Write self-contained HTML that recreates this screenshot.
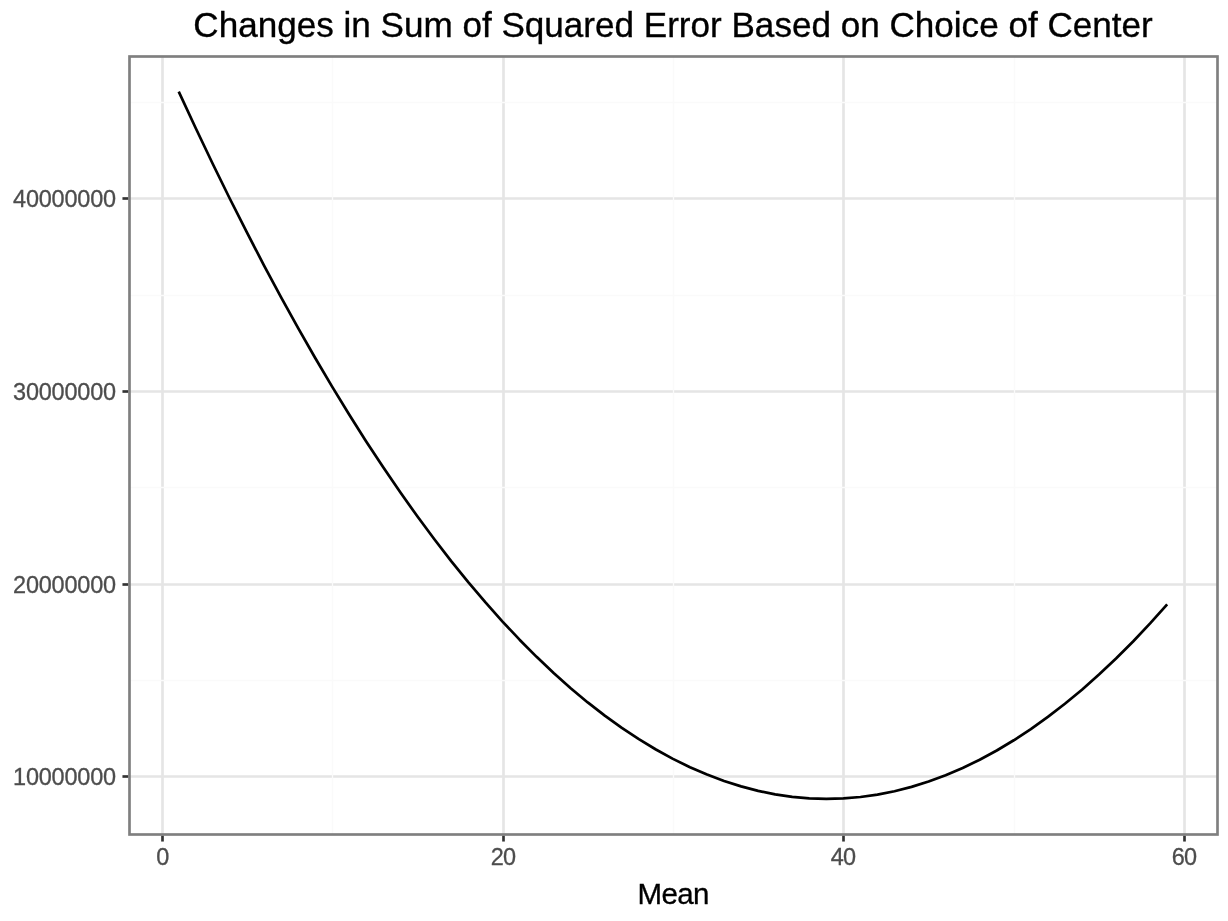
<!DOCTYPE html>
<html lang="en"><head><meta charset="utf-8"><title>Changes in Sum of Squared Error Based on Choice of Center</title>
<style>
html,body{margin:0;padding:0;background:#fff;}
body{width:1228px;height:921px;overflow:hidden;}
svg{display:block;}
text{font-family:"Liberation Sans",sans-serif;}
.tk{font-size:23.47px;fill:#4d4d4d;stroke:#4d4d4d;stroke-width:0.3px;letter-spacing:-0.2px;}
.xt{letter-spacing:-0.8px;}
.ttl{font-size:35.1px;fill:#000;stroke:#000;stroke-width:0.35px;}
.ax{font-size:29.5px;fill:#000;stroke:#000;stroke-width:0.3px;letter-spacing:-0.6px;}
</style></head><body>
<svg width="1228" height="921" viewBox="0 0 1228 921">
<rect x="0" y="0" width="1228" height="921" fill="#ffffff"/>
<g stroke="#e5e5e5" stroke-width="2.667">
<line x1="162.5" x2="162.5" y1="56.5" y2="834.5"/>
<line x1="503.5" x2="503.5" y1="56.5" y2="834.5"/>
<line x1="843.5" x2="843.5" y1="56.5" y2="834.5"/>
<line x1="1184.5" x2="1184.5" y1="56.5" y2="834.5"/>
<line y1="776.5" y2="776.5" x1="129.5" x2="1217.5"/>
<line y1="584.5" y2="584.5" x1="129.5" x2="1217.5"/>
<line y1="391.5" y2="391.5" x1="129.5" x2="1217.5"/>
<line y1="198.5" y2="198.5" x1="129.5" x2="1217.5"/>
</g>
<g stroke="#fafafa" stroke-width="1.333">
<line x1="332.5" x2="332.5" y1="56.5" y2="834.5"/>
<line x1="673.5" x2="673.5" y1="56.5" y2="834.5"/>
<line x1="1014.5" x2="1014.5" y1="56.5" y2="834.5"/>
<line y1="102.5" y2="102.5" x1="129.5" x2="1217.5"/>
<line y1="295.5" y2="295.5" x1="129.5" x2="1217.5"/>
<line y1="487.5" y2="487.5" x1="129.5" x2="1217.5"/>
<line y1="680.5" y2="680.5" x1="129.5" x2="1217.5"/>
</g>
<polyline points="178.73,91.60 195.77,128.28 212.81,163.99 229.86,198.73 246.90,232.48 263.94,265.26 280.98,297.06 298.02,327.89 315.07,357.73 332.11,386.60 349.15,414.50 366.19,441.41 383.23,467.35 400.28,492.32 417.32,516.30 434.36,539.31 451.40,561.34 468.44,582.39 485.49,602.47 502.53,621.57 519.57,639.70 536.61,656.84 553.65,673.01 570.70,688.20 587.74,702.42 604.78,715.66 621.82,727.92 638.86,739.20 655.91,749.51 672.95,758.84 689.99,767.19 707.03,774.57 724.07,780.97 741.12,786.39 758.16,790.84 775.20,794.31 792.24,796.80 809.28,798.31 826.33,798.85 843.37,798.41 860.41,796.99 877.45,794.60 894.49,791.23 911.54,786.88 928.58,781.56 945.62,775.25 962.66,767.98 979.70,759.72 996.75,750.49 1013.79,740.28 1030.83,729.09 1047.87,716.93 1064.91,703.79 1081.96,689.67 1099.00,674.57 1116.04,658.50 1133.08,641.45 1150.12,623.43 1167.17,604.43" fill="none" stroke="#000000" stroke-width="2.7" stroke-linejoin="round" stroke-linecap="butt"/>
<rect x="129.5" y="56.5" width="1088.0" height="778.0" fill="none" stroke="#7f7f7f" stroke-width="2.667"/>
<g stroke="#333333" stroke-width="2.667">
<line x1="162.5" x2="162.5" y1="835.83" y2="841.55"/>
<line x1="503.5" x2="503.5" y1="835.83" y2="841.55"/>
<line x1="843.5" x2="843.5" y1="835.83" y2="841.55"/>
<line x1="1184.5" x2="1184.5" y1="835.83" y2="841.55"/>
<line y1="776.5" y2="776.5" x1="122.45" x2="128.17"/>
<line y1="584.5" y2="584.5" x1="122.45" x2="128.17"/>
<line y1="391.5" y2="391.5" x1="122.45" x2="128.17"/>
<line y1="198.5" y2="198.5" x1="122.45" x2="128.17"/>
</g>
<text class="tk xt" x="162.50" y="865.1" text-anchor="middle">0</text>
<text class="tk xt" x="503.00" y="865.1" text-anchor="middle">20</text>
<text class="tk xt" x="843.00" y="865.1" text-anchor="middle">40</text>
<text class="tk xt" x="1184.00" y="865.1" text-anchor="middle">60</text>
<text class="tk" x="115.9" y="784.90" text-anchor="end">10000000</text>
<text class="tk" x="115.9" y="592.90" text-anchor="end">20000000</text>
<text class="tk" x="115.9" y="399.90" text-anchor="end">30000000</text>
<text class="tk" x="115.9" y="206.90" text-anchor="end">40000000</text>
<text class="ttl" x="673.0" y="36.7" text-anchor="middle">Changes in Sum of Squared Error Based on Choice of Center</text>
<text class="ax" x="673.2" y="904.1" text-anchor="middle">Mean</text>
</svg>
</body></html>
